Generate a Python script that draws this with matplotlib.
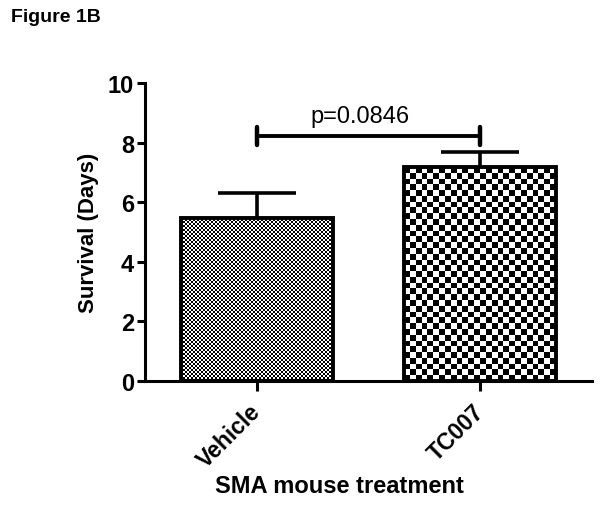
import numpy as np
import matplotlib
matplotlib.use("Agg")
import matplotlib.pyplot as plt
from matplotlib.patches import Rectangle

plt.rcParams['font.family'] = ['Liberation Sans', 'DejaVu Sans']

categories = ["Vehicle", "TC007"]
means = [5.48, 7.18]
sems = [0.83, 0.50]
p_text = "p=0.0846"
bracket_y = 8.22
cell_px = [2.0, 5.8]   # checker cell size in pixels

fig = plt.figure(figsize=(6.01, 5.06), dpi=100)
ax = fig.add_axes([145/601, 1-382/506, (592-145)/601, (382-84)/506])
ax.set_xlim(-0.5, 1.5)
ax.set_ylim(0, 10)

x = np.arange(len(categories))
width = 0.68

# error bars (below bars so that lower half is hidden)
ax.errorbar(x, means, yerr=sems, fmt='none', ecolor='black', elinewidth=2.6,
            capsize=28, capthick=2.6, zorder=1, clip_on=False)

px_per_x = (592-145) / 2.0
px_per_y = (382-84) / 10.0
for xi, m, cp in zip(x, means, cell_px):
    wpx = width * px_per_x
    hpx = m * px_per_y
    nx = max(1, int(round(wpx / cp)))
    ny = max(1, int(round(hpx / cp)))
    ii, jj = np.indices((ny, nx))
    board = ((ii + jj) % 2).astype(float)
    rect = Rectangle((xi - width/2, 0), width, m, facecolor='white',
                     edgecolor='none', zorder=2)
    ax.add_patch(rect)
    im = ax.imshow(board, cmap='gray', vmin=0, vmax=1, interpolation='nearest',
                   extent=(xi - width/2, xi + width/2, 0, m), origin='lower',
                   aspect='auto', zorder=3)
    im.set_clip_path(rect)
    ax.add_patch(Rectangle((xi - width/2, 0), width, m, facecolor='none',
                           edgecolor='black', linewidth=2.8, zorder=4,
                           joinstyle='miter'))

ax.set_xlim(-0.5, 1.5)
ax.set_ylim(0, 10)
ax.set_aspect('auto')

# significance bracket
ax.plot([0, 1], [bracket_y, bracket_y], color='black', lw=2.8, zorder=5,
        solid_capstyle='butt')
for xb in (0, 1):
    ax.plot([xb, xb], [bracket_y - 0.3, bracket_y + 0.3], color='black',
            lw=3.2, zorder=5, solid_capstyle='round')
ax.text(0.46, bracket_y + 0.32, p_text, ha='center', va='bottom',
        fontsize=17, color='black')

for s in ['top', 'right']:
    ax.spines[s].set_visible(False)
for s in ['left', 'bottom']:
    ax.spines[s].set_linewidth(2.2)

ax.set_yticks([0, 2, 4, 6, 8, 10])
ax.set_yticklabels(['0', '2', '4', '6', '8', '10'], fontsize=17, fontweight='bold')
ax.tick_params(axis='y', direction='out', length=6, width=2.2, pad=2)
ax.set_xticks(x)
ax.set_xticklabels(categories, fontsize=16.5, fontweight='bold', rotation=45,
                   ha='right', va='center', rotation_mode='anchor')
ax.tick_params(axis='x', direction='out', length=7, width=2.2, pad=12)

ax.set_ylabel("Survival (Days)", fontsize=16, fontweight='bold', labelpad=6)

fig.text(339/601, 1-493/506, "SMA mouse treatment", fontsize=17,
         fontweight='bold', ha='center', va='baseline')

fig.text(11/601, 1-22/506, "Figure 1B", fontsize=14, fontweight='bold',
         ha='left', va='baseline')

fig.savefig("out.png", dpi=100)
